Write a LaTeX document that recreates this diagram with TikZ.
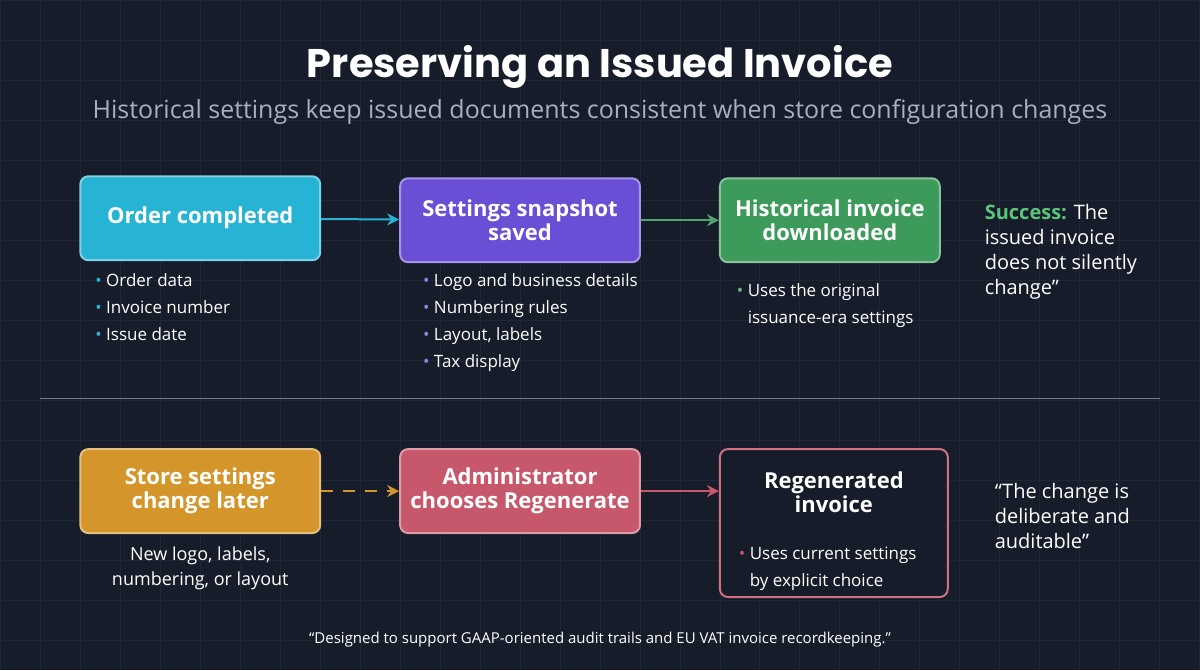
\documentclass[tikz,border=0pt]{standalone}
\usepackage{fontspec}
\setmainfont{Open Sans}
\newfontfamily\titlefont{Poppins}
\usetikzlibrary{arrows.meta, positioning}
\definecolor{bg}{HTML}{161C29}
\definecolor{gridc}{HTML}{1F2736}
\definecolor{cyanb}{HTML}{27B3D4}
\definecolor{purpb}{HTML}{6A4FD6}
\definecolor{greenb}{HTML}{3C9A5A}
\definecolor{orangeb}{HTML}{D4952A}
\definecolor{pinkb}{HTML}{C7586C}
\definecolor{subt}{HTML}{A9AFBB}
\definecolor{okgreen}{HTML}{5CC47A}

\begin{document}
\begin{tikzpicture}[
    x=0.5pt, y=-0.5pt,
    stage/.style={rectangle, rounded corners=4pt, line width=1pt, align=center, text=white,
        font=\fontsize{11}{12}\selectfont\bfseries, minimum height=42pt},
    bullets/.style={align=left, text=white, font=\fontsize{8.5}{13.5}\selectfont, anchor=north west},
    note/.style={align=left, text=white, font=\fontsize{10}{12.5}\selectfont, anchor=north west},
    flow/.style={-{Stealth[length=6pt,width=6pt]}, line width=1pt}
]
% background and grid
\fill[bg] (0,0) rectangle (1200,670);
\foreach \gx in {0,40,...,1200} \draw[gridc, line width=0.4pt] (\gx,0) -- (\gx,670);
\foreach \gy in {0,40,...,640} \draw[gridc, line width=0.4pt] (0,\gy) -- (1200,\gy);
\useasboundingbox (0,0) rectangle (1200,670);

% Heading
\node[text=white, font=\titlefont\fontsize{20}{24}\selectfont\bfseries] (title) at (600,67) {Preserving an Issued Invoice};
\node[text=subt, font=\fontsize{12.5}{14}\selectfont] (subtitle) at (600,112) {Historical settings keep issued documents consistent when store configuration changes};

% Top row
\node[stage, fill=cyanb, draw=cyanb!60!white, minimum width=120pt] (order) at (200,218) {Order completed};
\node[stage, fill=purpb, draw=purpb!60!white, minimum width=120pt] (snapshot) at (520,220) {Settings snapshot\\saved};
\node[stage, fill=greenb, draw=greenb!60!white, minimum width=110pt] (historical) at (830,220) {Historical invoice\\downloaded};

\node[bullets] (orderlist) at (88,266) {\textcolor{cyanb}{•}\ Order data\\\textcolor{cyanb}{•}\ Invoice number\\\textcolor{cyanb}{•}\ Issue date};
\node[bullets] (snaplist) at (416,266) {\textcolor{purpb!70!white}{•}\ Logo and business details\\\textcolor{purpb!70!white}{•}\ Numbering rules\\\textcolor{purpb!70!white}{•}\ Layout, labels\\\textcolor{purpb!70!white}{•}\ Tax display};
\node[bullets] (histlist) at (730,276) {\textcolor{okgreen}{•}\ Uses the original\\\phantom{•}\ issuance-era settings};
\node[note] (success) at (978,197) {\textcolor{okgreen}{\bfseries Success:} The\\issued invoice\\does not silently\\change”};

\draw[flow, cyanb] (order) -- (snapshot);
\draw[flow, greenb!90!white] (snapshot) -- (historical);

% Divider
\draw[gridc!60!white, line width=0.6pt] (40,398) -- (1160,398);

% Bottom row
\node[stage, fill=orangeb, draw=orangeb!60!white, minimum width=120pt] (store) at (200,491) {Store settings\\change later};
\node[stage, fill=pinkb, draw=pinkb!60!white, minimum width=120pt] (admin) at (520,491) {Administrator\\chooses Regenerate};
\node[stage, fill=bg, draw=pinkb!85!white, minimum width=114pt, minimum height=74pt, anchor=north] (regen) at (834,448) {};
\node[text=white, font=\fontsize{11}{12}\selectfont\bfseries, align=center] (regentitle) at (834,492) {Regenerated\\invoice};
\node[bullets] (regenlist) at (732,540) {\textcolor{pinkb}{•}\ Uses current settings\\\phantom{•}\ by explicit choice};

\node[text=white, align=center, font=\fontsize{9}{12.5}\selectfont] (storenote) at (200,568) {New logo, labels,\\numbering, or layout};
\node[note] (deliberate) at (988,476) {“The change is\\deliberate and\\auditable”};

\draw[flow, orangeb, dashed, dash pattern=on 6pt off 5pt] (store) -- (admin);
\draw[flow, pinkb] (admin) -- (regen.west |- admin);

% Footer
\node[text=white, font=\fontsize{7.5}{9}\selectfont] (footer) at (600,640) {“Designed to support GAAP-oriented audit trails and EU VAT invoice recordkeeping.”};
\end{tikzpicture}
\end{document}
